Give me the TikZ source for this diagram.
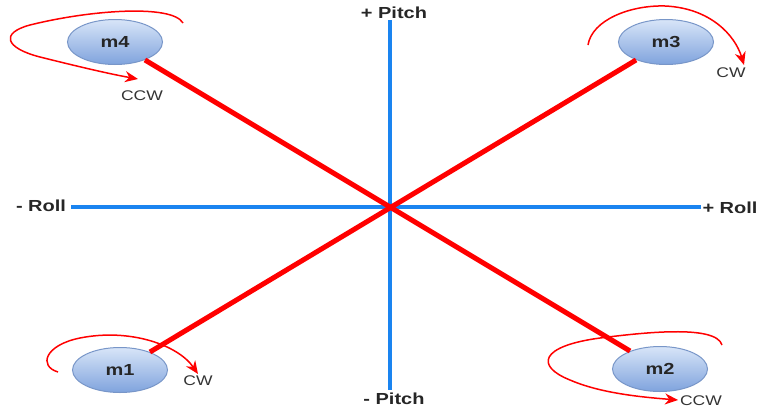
\documentclass[tikz,border=0pt]{standalone}
\usepackage{fontspec}
\newfontfamily\lblfont[FakeStretch=1.25]{Liberation Sans}
\usepackage{xcolor}
\usepackage{tikz}
\usetikzlibrary{shapes.geometric, arrows.meta, positioning, calc}
\definecolor{axisblue}{HTML}{1A84F0}
\definecolor{motortop}{HTML}{D8E5F8}
\definecolor{motorbot}{HTML}{7FA3DD}
\definecolor{motorline}{HTML}{7896C8}
\tikzset{
    motor/.style={ellipse, draw=motorline, line width=1pt, top color=motortop, bottom color=motorbot, minimum width=95pt, minimum height=45pt, inner sep=0pt, font=\lblfont\fontsize{16}{18}\selectfont\bfseries, text=black!85},
    axislabel/.style={font=\lblfont\fontsize{16}{18}\selectfont\bfseries, text=black!85, inner sep=1pt},
    dirlabel/.style={font=\lblfont\fontsize{14}{16}\selectfont, text=black!80, inner sep=0pt},
    axis/.style={axisblue, line width=4pt},
    arm/.style={red, line width=5pt},
    spin/.style={red, line width=1.5pt, -{Stealth[length=13pt,width=11pt]}},
}
\begin{document}
\begin{tikzpicture}[x=1pt, y=-1pt]
    \useasboundingbox (0,0) rectangle (760,410);

    % axes
    \node[axislabel] (pitchpos) at (394,13) {+ Pitch};
    \node[axislabel] (pitchneg) at (394,399) {- Pitch};
    \node[axislabel] (rollneg) at (41,206) {- Roll};
    \node[axislabel] (rollpos) at (730,208) {+ Roll};
    \draw[axis] (rollneg.east) ++(4,1) -- (rollpos.west |- 0,207);
    \draw[axis] (390,20) -- (390,390);

    % motors
    \node[motor] (m4) at (115,42) {m4};
    \node[motor] (m3) at (666,42) {m3};
    \node[motor] (m1) at (120,370) {m1};
    \node[motor] (m2) at (660,369) {m2};

    \draw[arm] (m4) -- (m2);
    \draw[arm] (m3) -- (m1);

    % rotation directions
    \draw[spin] (183,23) .. controls (172,4) and (90,10) .. (30,25) .. controls (0,33) and (5,48) .. (40,57) .. controls (80,67) and (110,74) .. (138,79);
    \node[dirlabel] (m4dir) at (142,96) {CCW};

    \draw[spin] (588,45) .. controls (592,20) and (630,5) .. (665,6) .. controls (710,8) and (735,35) .. (744,65);
    \node[dirlabel] (m3dir) at (731,73) {CW};

    \draw[spin] (58,372) .. controls (38,366) and (45,345) .. (80,338) .. controls (130,328) and (178,345) .. (198,374);
    \node[dirlabel] (m1dir) at (198,381) {CW};

    \draw[spin] (722,345) .. controls (716,324) and (640,333) .. (600,338) .. controls (540,346) and (535,366) .. (570,380) .. controls (600,393) and (640,397) .. (678,400);
    \node[dirlabel] (m2dir) at (701,401) {CCW};
\end{tikzpicture}
\end{document}
